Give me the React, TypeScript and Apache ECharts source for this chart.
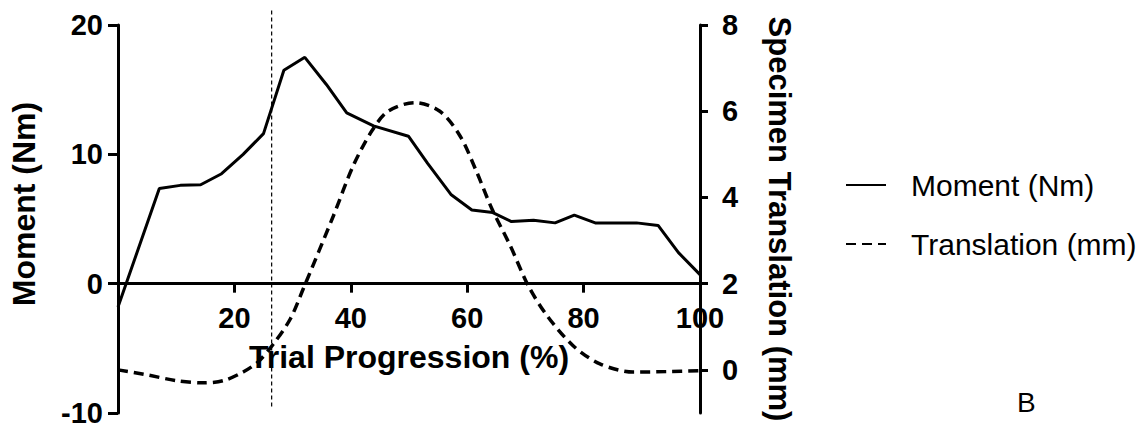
import React, { useEffect, useRef } from "react";
import * as echarts from "echarts";

// Moment (Nm), left axis
const momentX = [0, 7.1, 10.7, 14.2, 17.8, 21.5, 25, 28.5, 32.1, 35.8, 39.3, 43.9, 49.9, 53.2, 57.2, 60.8, 64.4, 67.6, 71.4, 75.1, 78.4, 82.0, 89.1, 92.8, 96.3, 100];
const momentY = [-1.8, 7.35, 7.6, 7.65, 8.5, 10.0, 11.6, 16.5, 17.5, 15.4, 13.2, 12.2, 11.4, 9.3, 6.9, 5.7, 5.5, 4.8, 4.9, 4.7, 5.3, 4.7, 4.7, 4.5, 2.4, 0.7];

// Specimen translation (mm), right axis
const translationX = [0, 4.4, 10.1, 14.7, 18.1, 21.5, 24.1, 26.7, 29.6, 31.8, 37, 40.4, 43.6, 46.4, 51, 55.3, 58.8, 61.6, 64.2, 67.4, 70.5, 73.7, 78.2, 82.8, 88.5, 94.3, 100];
const translationY = [0.0, -0.1, -0.25, -0.3, -0.25, -0.05, 0.19, 0.6, 1.18, 1.87, 3.57, 4.73, 5.54, 6.0, 6.2, 6.0, 5.42, 4.6, 3.75, 2.88, 1.95, 1.26, 0.56, 0.14, -0.05, -0.04, -0.02];

// Vertical reference line (x position, y extent on left axis)
const refLineX = 26.4;
const refLineY = [-9.5, 21.2];

const xTicks = [20, 40, 60, 80, 100];
const leftTicks = [-10, 0, 10, 20];
const rightTicks = [0, 2, 4, 6, 8];

const seriesNames = ["Moment (Nm)", "Translation (mm)"];

const FONT = "'Liberation Sans', Arial, sans-serif";

const GRID_TOP = 25;
const GRID_BOTTOM = 21;
const CHART_H = 434;
const LEFT_MIN = -10;
const LEFT_MAX = 20;

export default function App() {
  const ref = useRef<HTMLDivElement>(null);
  useEffect(() => {
    if (!ref.current) return;
    const chart = echarts.init(ref.current, null, { renderer: "svg" });
    const axisLine = { color: "#000", width: 3 };
    const labelStyle = { color: "#000", fontSize: 29, fontWeight: "bold" as const, fontFamily: FONT };
    const nameStyle = { color: "#000", fontSize: 31, fontWeight: "bold" as const, fontFamily: FONT };
    // place the x axis on the left axis' zero
    const gridH = CHART_H - GRID_TOP - GRID_BOTTOM;
    const zeroOffset = (gridH * (0 - LEFT_MIN)) / (LEFT_MAX - LEFT_MIN);
    chart.setOption({
      animation: false,
      backgroundColor: "#fff",
      grid: { left: 118, right: 443, top: GRID_TOP, bottom: GRID_BOTTOM, containLabel: false, outerBoundsMode: "none" },
      xAxis: {
        type: "value",
        position: "bottom",
        offset: -zeroOffset,
        min: 0,
        max: 100,
        interval: 20,
        axisLine: { show: true, onZero: false, lineStyle: axisLine },
        axisTick: { show: true, length: 9, lineStyle: axisLine, customValues: xTicks },
        axisLabel: { ...labelStyle, margin: 20, customValues: xTicks },
        splitLine: { show: false },
        name: "Trial Progression (%)",
        nameLocation: "middle",
        nameGap: 57,
        nameTextStyle: { ...nameStyle, fontSize: 32 },
      },
      yAxis: [
        {
          type: "value",
          position: "left",
          min: LEFT_MIN,
          max: LEFT_MAX,
          interval: 10,
          axisLine: { show: true, onZero: false, lineStyle: axisLine },
          axisTick: { show: true, length: 10, lineStyle: axisLine, customValues: leftTicks },
          axisLabel: { ...labelStyle, margin: 15, customValues: leftTicks },
          splitLine: { show: false },
          name: "Moment (Nm)",
          nameLocation: "middle",
          nameRotate: 90,
          nameGap: 78,
          nameTextStyle: { ...nameStyle, fontSize: 32, padding: [0, 0, 0, 30] },
        },
        {
          type: "value",
          position: "right",
          min: -1,
          max: 8,
          axisLine: { show: true, onZero: false, lineStyle: axisLine },
          axisTick: { show: true, length: 8, lineStyle: axisLine, customValues: rightTicks },
          axisLabel: { ...labelStyle, margin: 22, customValues: rightTicks },
          splitLine: { show: false },
          name: "Specimen Translation (mm)",
          nameLocation: "middle",
          nameRotate: -90,
          nameGap: 64,
          nameTextStyle: { ...nameStyle, fontSize: 31 },
        },
      ],
      legend: {
        orient: "vertical",
        left: 840,
        top: 165,
        itemWidth: 40,
        itemHeight: 14,
        itemGap: 29,
        data: seriesNames,
        itemStyle: { opacity: 0, borderWidth: 0 },
        textStyle: { color: "#000", fontSize: 30, fontFamily: FONT, padding: [0, 0, 0, 20] },
        selectedMode: false,
      },
      series: [
        {
          name: seriesNames[0],
          type: "line",
          yAxisIndex: 0,
          data: momentX.map((x, i) => [x, momentY[i]]),
          symbol: "none",
          lineStyle: { color: "#000", width: 3 },
          itemStyle: { color: "#000" },
          clip: false,
          z: 3,
        },
        {
          name: seriesNames[1],
          type: "line",
          yAxisIndex: 1,
          data: translationX.map((x, i) => [x, translationY[i]]),
          symbol: "none",
          smooth: 0.3,
          lineStyle: { color: "#000", width: 3.5, type: [10, 6] },
          itemStyle: { color: "#000" },
          clip: false,
          z: 3,
        },
        {
          name: "ref",
          type: "line",
          yAxisIndex: 0,
          data: refLineY.map((y) => [refLineX, y]),
          symbol: "none",
          lineStyle: { color: "#000", width: 1.2, type: [4, 3] },
          clip: false,
          silent: true,
          z: 3,
        },
      ],
      graphic: [
        {
          type: "text",
          left: 1017,
          top: 388,
          style: { text: "B", fontSize: 28, fontFamily: FONT, fill: "#000" },
        },
      ],
    });
    return () => chart.dispose();
  }, []);
  return <div ref={ref} style={{ width: 1143, height: 434, position: "absolute", left: 0, top: 0 }} />;
}
